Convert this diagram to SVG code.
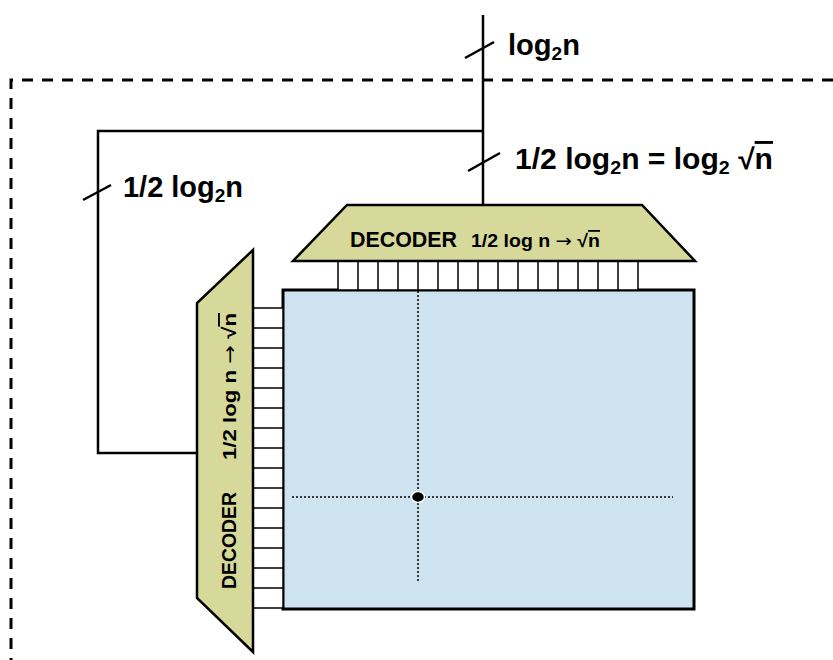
<svg xmlns="http://www.w3.org/2000/svg" width="833" height="660" viewBox="0 0 833 660">
  <style>
    .wire { fill: none; stroke: #000; stroke-width: 2.5; }
    .dash { fill: none; stroke: #000; stroke-width: 3; stroke-dasharray: 11 9; }
    .dec { fill: #d6d99a; stroke: #000; stroke-width: 2.5; stroke-linejoin: miter; }
    .cell { fill: #fff; stroke: #000; stroke-width: 1.5; }
    .arr { fill: #cde4f0; stroke: #000; stroke-width: 3; }
    .dot { fill: none; stroke: #000; stroke-width: 1.5; stroke-dasharray: 2 2; }
    .lbl { font-family: "Liberation Sans", Arial, sans-serif; font-weight: bold; fill: #000; }
    .sym { font-family: "DejaVu Sans", sans-serif; font-weight: normal; }
  </style>

  <!-- chip boundary -->
  <path class="dash" d="M 833 80 H 11 V 660"/>

  <!-- connectors: address bus, split and routed to both decoders -->
  <g id="connectors">
    <path class="wire" d="M 483 15 V 206"/>
    <path class="wire" d="M 483 131 H 98 V 453 H 197"/>
    <path class="wire" d="M 465 58 L 494 42"/>
    <path class="wire" d="M 468 171 L 500 153"/>
    <path class="wire" d="M 83 200 L 111 185"/>
  </g>

  <g id="labels">
    <text class="lbl" x="508" y="55" font-size="29" textLength="72" lengthAdjust="spacingAndGlyphs">log<tspan font-size="19" dy="5">2</tspan><tspan dy="-5">n</tspan></text>
    <text class="lbl" x="515" y="169" font-size="29" textLength="258" lengthAdjust="spacingAndGlyphs">1/2 log<tspan font-size="19" dy="5">2</tspan><tspan dy="-5">n = log</tspan><tspan font-size="19" dy="5">2</tspan><tspan dy="-5"> √</tspan><tspan text-decoration="overline">n</tspan></text>
    <text class="lbl" x="123" y="197" font-size="29" textLength="120" lengthAdjust="spacingAndGlyphs">1/2 log<tspan font-size="19" dy="5">2</tspan><tspan dy="-5">n</tspan></text>
  </g>

  <!-- memory cell array -->
  <g id="array">
    <rect class="arr" x="283" y="290" width="411" height="319"/>
    <path class="dot" d="M 418 291 V 582"/>
    <path class="dot" d="M 292 497 H 673"/>
    <ellipse cx="418" cy="497" rx="6.5" ry="5.5" fill="#000" stroke="#fff" stroke-width="1.5"/>
  </g>

  <!-- column decoder -->
  <g id="col-decoder">
    <path class="cell" d="M 338 261 H 638 V 290 H 338 Z M 358 261 V 290 M 378 261 V 290 M 398 261 V 290 M 418 261 V 290 M 438 261 V 290 M 458 261 V 290 M 478 261 V 290 M 498 261 V 290 M 518 261 V 290 M 538 261 V 290 M 558 261 V 290 M 578 261 V 290 M 598 261 V 290 M 618 261 V 290"/>
    <path class="dec" d="M 347 205 H 642 L 695 261 H 293 Z"/>
    <text class="lbl" x="350" y="247" font-size="22" textLength="107" lengthAdjust="spacingAndGlyphs">DECODER</text>
    <text class="lbl" x="471" y="247" font-size="18" textLength="129" lengthAdjust="spacingAndGlyphs">1/2 log n <tspan class="sym">→</tspan> √<tspan text-decoration="overline">n</tspan></text>
  </g>

  <!-- row decoder -->
  <g id="row-decoder">
    <path class="cell" d="M 253 308 H 283 V 608 H 253 Z M 253 328 H 283 M 253 348 H 283 M 253 368 H 283 M 253 388 H 283 M 253 408 H 283 M 253 428 H 283 M 253 448 H 283 M 253 468 H 283 M 253 488 H 283 M 253 508 H 283 M 253 528 H 283 M 253 548 H 283 M 253 568 H 283 M 253 588 H 283"/>
    <path class="dec" d="M 253 250 V 652 L 197 598 V 303 Z"/>
    <g transform="translate(236 589) rotate(-90)">
      <text class="lbl" x="0" y="0" font-size="20" textLength="97" lengthAdjust="spacingAndGlyphs">DECODER</text>
      <text class="lbl" x="129" y="0" font-size="19" textLength="147" lengthAdjust="spacingAndGlyphs">1/2 log n <tspan class="sym">→</tspan> √<tspan text-decoration="overline">n</tspan></text>
    </g>
  </g>
</svg>
